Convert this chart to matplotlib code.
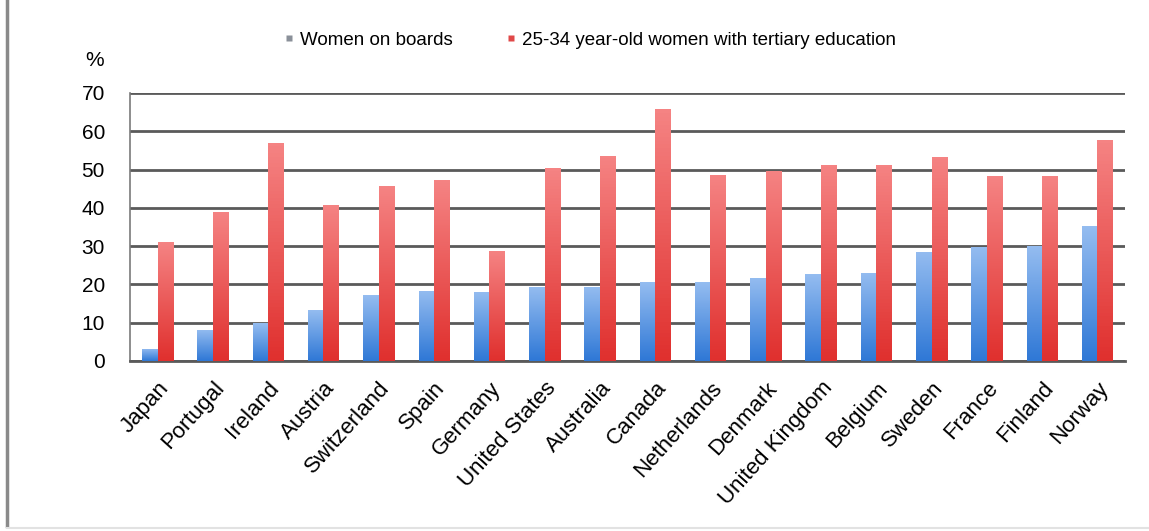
import numpy as np
import matplotlib
matplotlib.use("Agg")
import matplotlib.pyplot as plt
from matplotlib.colors import LinearSegmentedColormap
from matplotlib.lines import Line2D

plt.rcParams['font.family'] = ['Liberation Sans', 'DejaVu Sans']

countries = ["Japan", "Portugal", "Ireland", "Austria", "Switzerland", "Spain",
             "Germany", "United States", "Australia", "Canada", "Netherlands",
             "Denmark", "United Kingdom", "Belgium", "Sweden", "France",
             "Finland", "Norway"]
women_boards = [3.2, 8.2, 9.9, 13.2, 17.2, 18.4, 18.1, 19.4, 19.4, 20.5, 20.5,
                21.8, 22.7, 23.0, 28.5, 29.9, 30.0, 35.2]
tertiary_edu = [31.0, 39.0, 56.9, 40.8, 45.7, 47.2, 28.8, 50.3, 53.6, 65.7, 48.7,
                49.7, 51.3, 51.3, 53.3, 48.3, 48.3, 57.6]
yticks = [0, 10, 20, 30, 40, 50, 60, 70]

fig = plt.figure(figsize=(11.49, 5.31), dpi=100)
ax = fig.add_axes([0.1131, 0.3202, 0.866, 0.5047])

x = np.arange(len(countries))
w = 0.28
b1 = ax.bar(x - w / 2, women_boards, width=w, color='#5a96e6', zorder=3)
b2 = ax.bar(x + w / 2, tertiary_edu, width=w, color='#ea4a4a', zorder=3)

# vertical gradient inside each bar
grad = np.linspace(0, 1, 64).reshape(-1, 1)
cm_blue = LinearSegmentedColormap.from_list('b', ['#2f78d6', '#94bcf0'])
cm_red = LinearSegmentedColormap.from_list('r', ['#e0302e', '#f58383'])
for bars, cm in ((b1, cm_blue), (b2, cm_red)):
    for bar in bars:
        x0, y0 = bar.get_x(), bar.get_y()
        bw, bh = bar.get_width(), bar.get_height()
        im = ax.imshow(grad, cmap=cm, aspect='auto', origin='lower',
                       extent=[x0, x0 + bw, y0, y0 + bh], zorder=4)
        im.set_clip_path(bar)

ax.set_xlim(-0.5, len(countries) - 0.5)
ax.set_ylim(0, 70)
ax.set_yticks(yticks)
ax.set_yticklabels([str(t) for t in yticks], fontsize=15)
ax.set_xticks(x)
ax.set_xticklabels(countries, rotation=48, ha='right', rotation_mode='anchor',
                   fontsize=16)
ax.tick_params(length=0)
ax.tick_params(axis='x', pad=12)
ax.tick_params(axis='y', pad=18)
ax.grid(axis='y', color='#5a5a5a', linewidth=2, zorder=1)
for s in ('top', 'right'):
    ax.spines[s].set_visible(False)
ax.spines['left'].set_color('#7a7a7a')
ax.spines['bottom'].set_color('#5a5a5a')
ax.spines['left'].set_linewidth(1.2)
ax.spines['bottom'].set_linewidth(2)

fig.text(95 / 1149, 1 - 60 / 531, '%', fontsize=15, ha='center', va='center')

handles = [Line2D([], [], marker='s', linestyle='', markersize=5,
                  markerfacecolor='#8a9099', markeredgecolor='none'),
           Line2D([], [], marker='s', linestyle='', markersize=5,
                  markerfacecolor='#e04848', markeredgecolor='none')]
fig.legend(handles, ['Women on boards',
                     '25-34 year-old women with tertiary education'],
           loc='center', bbox_to_anchor=(590 / 1149, 1 - 40 / 531), ncol=2,
           frameon=False, fontsize=13.5, handletextpad=0.3, columnspacing=2.8,
           handlelength=0.6)

# frame around the picture
fig.add_artist(Line2D([7 / 1149, 7 / 1149], [0.01, 1.0], color='#8a8a8a',
                      linewidth=2.5, transform=fig.transFigure))
fig.add_artist(Line2D([7 / 1149, 1.0], [3 / 531, 3 / 531], color='#e2e2e2',
                      linewidth=1.5, transform=fig.transFigure))

fig.savefig('out.png', dpi=100)
